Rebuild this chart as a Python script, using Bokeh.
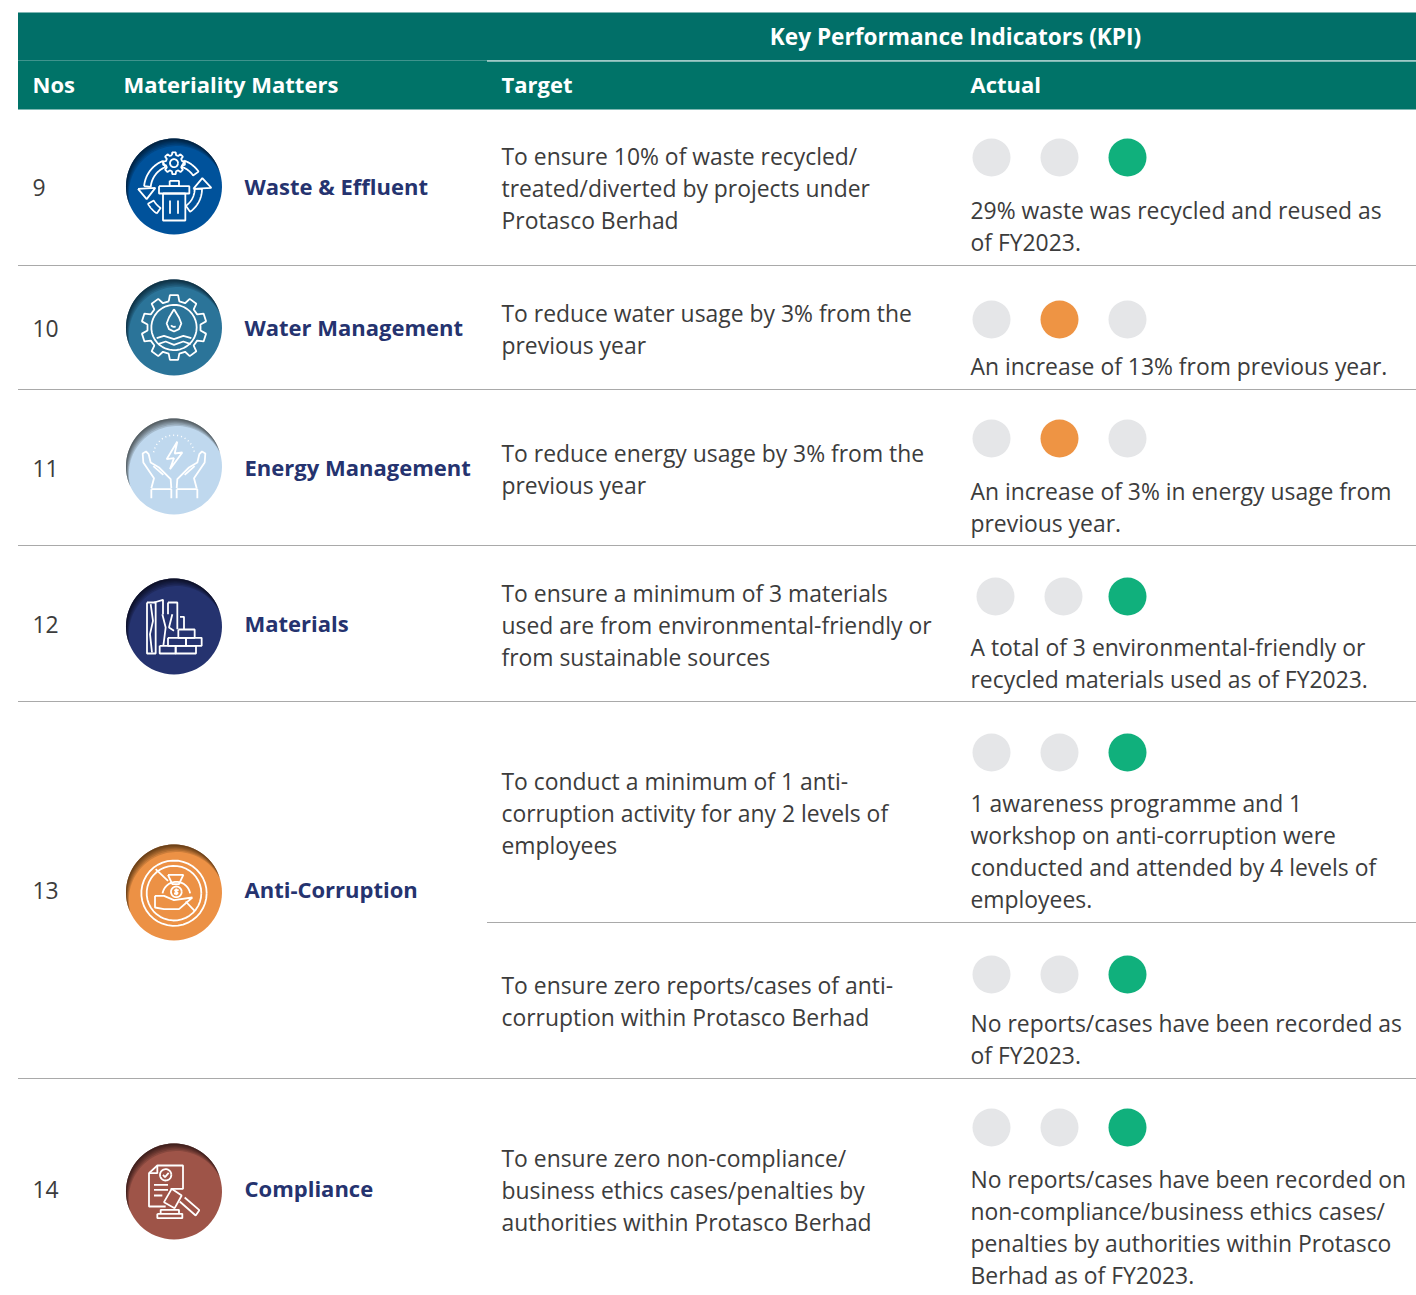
import numpy as np
from bokeh.plotting import figure
from bokeh.models import Range1d
from bokeh.core.properties import value
from bokeh.embed import file_html
from bokeh.resources import INLINE

# ---- content
nos = ["9", "10", "11", "12", "13", "14"]
matters = ["Waste & Effluent", "Water Management", "Energy Management", "Materials", "Anti-Corruption", "Compliance"]
targets = [
    ["To ensure 10% of waste recycled/", "treated/diverted by projects under", "Protasco Berhad"],
    ["To reduce water usage by 3% from the", "previous year"],
    ["To reduce energy usage by 3% from the", "previous year"],
    ["To ensure a minimum of 3 materials", "used are from environmental-friendly or", "from sustainable sources"],
    ["To conduct a minimum of 1 anti-", "corruption activity for any 2 levels of", "employees"],
    ["To ensure zero reports/cases of anti-", "corruption within Protasco Berhad"],
    ["To ensure zero non-compliance/", "business ethics cases/penalties by", "authorities within Protasco Berhad"],
]
actuals = [
    ["29% waste was recycled and reused as", "of FY2023."],
    ["An increase of 13% from previous year."],
    ["An increase of 3% in energy usage from", "previous year."],
    ["A total of 3 environmental-friendly or", "recycled materials used as of FY2023."],
    ["1 awareness programme and 1", "workshop on anti-corruption were", "conducted and attended by 4 levels of", "employees."],
    ["No reports/cases have been recorded as", "of FY2023."],
    ["No reports/cases have been recorded on", "non-compliance/business ethics cases/", "penalties by authorities within Protasco", "Berhad as of FY2023."],
]
status = [2, 1, 1, 2, 2, 2, 2]  # index of the lit lamp

# ---- layout (page pixels)
row_y = [185, 326, 466, 622, 888, 1187]
nos_y = [187, 328, 468, 624, 890, 1189]
icon_y = [186, 327, 466, 626, 892, 1191]
target_y = [[155.5, 187.5, 219.5], [312.5, 344.5], [452.5, 484.5], [592.5, 624.5, 656.5], [780.5, 812.5, 844.5], [984.5, 1016.5], [1157.5, 1189.5, 1221.5]]
actual_y = [[209.5, 241.5], [365.5], [490.5, 522.5], [646.5, 678.5], [802.5, 834.5, 866.5, 898.5], [1022.5, 1054.5], [1178.5, 1210.5, 1242.5, 1274.5]]
lamp_y = [157, 319, 438, 596, 752, 974, 1127]
lamp_x = [[991, 1059, 1127]] * 3 + [[995, 1063, 1127]] + [[991, 1059, 1127]] * 3
rules = [(17.5, 265), (17.5, 389), (17.5, 545), (17.5, 701), (486.5, 922), (17.5, 1078)]

HEAD = "#016F68"
HEAD2 = "#007368"
BODY = "#3C3C3C"
NAVY = "#25336F"
OFF, GREEN, AMBER = "#E5E6E8", "#10B07C", "#EE9444"
FONT = value("Open Sans")
BODY_SIZE = "22.9px"
BOLD_SIZE = "22px"

p = figure(width=1416, height=1295, output_backend="svg", toolbar_location=None,
           x_range=Range1d(0, 1416), y_range=Range1d(1295, 0), min_border=0)
p.axis.visible = False
p.grid.visible = False
p.outline_line_color = None

# header
p.quad(left=[17.5], right=[1416], top=[12], bottom=[60], fill_color=HEAD, line_color=None)
p.quad(left=[17.5], right=[1416], top=[60], bottom=[109], fill_color=HEAD2, line_color=None)
p.line([486.5, 1416], [60.5, 60.5], line_color="#FFFFFF", line_width=1)


def txt(x, y, s, color, size, style="normal", align="left"):
    p.text(x=x, y=y, text=s, text_color=color, text_font=FONT, text_font_size=value(size),
           text_font_style=style, text_baseline="middle", text_align=align)


txt([955], [36], ["Key Performance Indicators (KPI)"], "#FFFFFF", "22.6px", "bold", "center")
txt([32, 123, 501, 970], [83] * 4, ["Nos", "Materiality Matters", "Target", "Actual"], "#FFFFFF", BOLD_SIZE, "bold")

# rules
for x0, y in rules:
    p.line([x0, 1416], [y, y], line_color="#A9A9A9", line_width=1)

# row text
txt([32] * 6, nos_y, nos, BODY, BODY_SIZE)
txt([244] * 6, row_y, matters, NAVY, BOLD_SIZE, "bold")
for lines, ys in zip(targets, target_y):
    txt([501] * len(lines), ys, lines, BODY, BODY_SIZE)
for lines, ys in zip(actuals, actual_y):
    txt([970] * len(lines), ys, lines, BODY, BODY_SIZE)

# lamps
for st, xs, y in zip(status, lamp_x, lamp_y):
    lit = GREEN if st == 2 else AMBER
    p.circle(x=xs, y=[y] * 3, radius=19, fill_color=[lit if i == st else OFF for i in range(3)], line_color=None)


# ---- icons: discs with inner shadow, white pictograms (drawn in 3x units around the disc centre)
def disc(cy, base, dark):
    R = 48.0
    cx = 173.5
    p.circle(x=[cx], y=[cy], radius=R, fill_color=base, line_color=None)
    th = np.arctan2(0.93, 0.35)
    ux, uy = np.cos(th), np.sin(th)
    for d in (8, 6.5, 5, 3.8, 2.7, 1.8, 1.0):
        half = np.arccos(d / (2 * R))
        a = np.linspace(th + half, th + 2 * np.pi - half, 60)
        outer_x, outer_y = cx + R * np.cos(a), cy + R * np.sin(a)
        half2 = np.pi - half
        b = np.linspace(th + 2 * np.pi - half2, th + half2, 60)
        inner_x, inner_y = cx + d * ux + R * np.cos(b), cy + d * uy + R * np.sin(b)
        p.patch(np.r_[outer_x, inner_x], np.r_[outer_y, inner_y], fill_color=dark, fill_alpha=0.2, line_color=None)


def arc(cx, cy, r, a0, a1, n=40):
    a = np.radians(np.linspace(a0, a1, n))
    return list(zip(cx + r * np.cos(a), cy + r * np.sin(a)))


def band(cx, cy, r0, r1, a0, a1):
    pts = arc(cx, cy, r1, a0, a1) + arc(cx, cy, r0, a1, a0)
    return pts + [pts[0]]


def gear(cx, cy, r0, r1, n):
    pts = []
    for i in range(n):
        s = 360 / n
        for f, r in ((-0.32, r0), (-0.2, r1), (0.2, r1), (0.32, r0)):
            a = np.radians((i + f) * s - 90)
            pts.append((cx + r * np.cos(a), cy + r * np.sin(a)))
    pts.append(pts[0])
    return pts


def draw(cy, ox, oy, polys, width=1.8, dash=None):
    xs = [[173.5 + (x - ox) / 3 for x, _ in q] for q in polys]
    ys = [[cy + (y - oy) / 3 for _, y in q] for q in polys]
    kw = {"line_dash": dash} if dash else {}
    p.multi_line(xs, ys, line_color="#FFFFFF", line_width=width, **kw)


def box(x0, y0, x1, y1):
    return [(x0, y0), (x1, y0), (x1, y1), (x0, y1), (x0, y0)]


disc(icon_y[0], "#00529B", "#06182C")
draw(icon_y[0], 520, 558, [
    gear(520, 488, 25, 33, 8), arc(520, 488, 12, 0, 360),
    band(520, 565, 70, 90, 185, 248),
    band(520, 565, 70, 90, 290, 325),
    band(520, 565, 70, 90, 125, 150),
    band(520, 565, 62, 84, 0, 55),
    [(412, 565), (464, 562), (438, 596), (412, 565)],
    [(578, 565), (605, 533), (632, 562), (578, 565)],
    box(475, 557, 566, 579), box(507, 541, 535, 557), box(487, 579, 554, 660),
    [(508, 600), (508, 640)], [(532, 600), (532, 640)],
])

disc(icon_y[1], "#2B7499", "#0A2433")
draw(icon_y[1], 520, 980, [
    gear(520, 980, 80, 98, 10), arc(520, 980, 68, 0, 360),
    [(520, 925), (505, 950), (498, 968), (505, 985), (520, 992), (535, 985), (542, 968), (535, 950), (520, 925)],
    arc(520, 968, 10, 60, 150),
    [(468, 1012), (490, 1005), (520, 1015), (548, 1005), (572, 1012)],
    [(472, 1030), (495, 1022), (520, 1032), (548, 1022), (570, 1030)],
])

disc(icon_y[2], "#BFD8EE", "#3C3F42")
draw(icon_y[2], 190, 197, [
    [(200, 122), (168, 175), (190, 172), (178, 205), (215, 155), (192, 158), (200, 122)],
    [(122, 262), (130, 232), (98, 185), (96, 158), (106, 152), (114, 160), (120, 185), (145, 200), (180, 235), (182, 262)],
    [(258, 262), (250, 232), (282, 185), (284, 158), (274, 152), (266, 160), (260, 185), (235, 200), (200, 235), (198, 262)],
    [(122, 265), (182, 265), (182, 292)], [(122, 265), (122, 292)],
    [(198, 265), (260, 265), (260, 292)], [(198, 265), (198, 292)],
    [(128, 196), (158, 222)], [(252, 196), (222, 222)],
])
draw(icon_y[2], 190, 197, [arc(190, 165, 62, 190, 350)], width=1.5, dash="1 3")

disc(icon_y[3], "#25336F", "#0A0C1A")
draw(icon_y[3], 190, 677, [
    box(109, 605, 135, 758), [(120, 610), (127, 660), (118, 700), (124, 755)],
    [(130, 605), (157, 597), (157, 640)],
    [(172, 605), (200, 605), (200, 685)], [(172, 605), (172, 640)],
    [(155, 640), (165, 680), (158, 735)], [(185, 640), (175, 680), (190, 690)],
    [(208, 648), (220, 648), (220, 685)],
    box(203, 686, 252, 711), box(172, 711, 226, 735), box(226, 711, 273, 735),
    box(147, 735, 195, 758), box(195, 735, 256, 758),
])

disc(icon_y[4], "#EC9145", "#4A2E10")
draw(icon_y[4], 190, 185, [
    arc(190, 187, 98, 0, 360), arc(190, 187, 82, 0, 360),
    [(135, 115), (172, 150)], [(225, 212), (252, 240)],
    [(172, 132), (218, 132), (205, 160), (185, 160), (172, 132)],
    arc(197, 195, 42, 190, 350),
    arc(197, 183, 16, 0, 360),
    [(133, 195), (160, 195), (190, 208), (245, 200), (205, 235), (160, 235), (133, 230), (133, 195)],
    [(197, 173), (197, 193)], [(204, 178), (192, 178), (202, 188), (190, 188)],
])

disc(icon_y[5], "#9E5448", "#2A1614")
draw(icon_y[5], 190, 1080, [
    [(180, 1072), (217, 1072), (217, 1002), (140, 1002), (115, 1025), (115, 1125), (165, 1125)],
    [(140, 1002), (140, 1025), (115, 1025)],
    arc(165, 1030, 17, 0, 360), [(157, 1030), (163, 1037), (174, 1024)],
    [(130, 1060), (172, 1060)], [(130, 1075), (172, 1075)], [(130, 1092), (155, 1092)],
    [(183, 1072), (213, 1092), (192, 1130), (160, 1112), (183, 1072)],
    [(207, 1110), (255, 1152), (266, 1136), (222, 1098)],
    box(140, 1147, 215, 1160), [(150, 1147), (150, 1135), (205, 1135), (205, 1147)],
])

open("out.html", "w").write(file_html(p, INLINE))
